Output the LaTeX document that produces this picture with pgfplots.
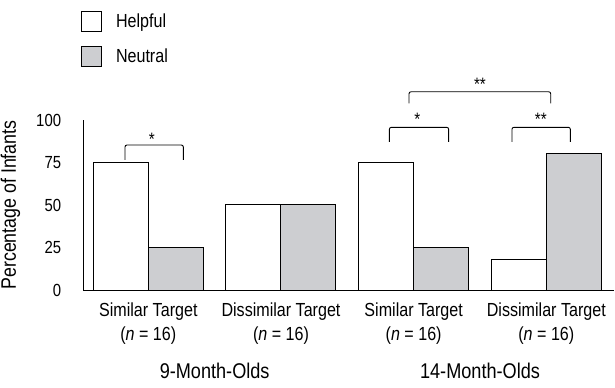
\documentclass[border=0pt]{standalone}
\usepackage{fontspec}
\setmainfont{Liberation Sans}[FakeStretch=0.85]
\usepackage{pgfplots}
\pgfplotsset{compat=1.18}
\definecolor{barGray}{RGB}{205,206,209}
\begin{document}
\begin{tikzpicture}
\useasboundingbox (-83.3bp,-98bp) rectangle (531.7bp,290bp);
\begin{axis}[
  at={(0,0)}, anchor=south west,
  scale only axis, width=530.7bp, height=170bp,
  xmin=-0.49, xmax=3.51, ymin=0, ymax=100,
  axis x line*=bottom, axis y line*=left,
  axis line style={-, line width=1bp},
  ybar=0pt, bar width=55bp,
  xtick={0,1,2,3},
  xticklabels={{Similar Target\\(\textit{n} = 16)}, {Dissimilar Target\\(\textit{n} = 16)}, {Similar Target\\(\textit{n} = 16)}, {Dissimilar Target\\(\textit{n} = 16)}},
  ytick={0,25,50,75,100},
  tick style={draw=none},
  major tick length=0pt,
  /pgf/number format/assume math mode=true,
  xticklabel style={align=center, font=\fontsize{19}{24}\selectfont, inner sep=0pt, yshift=-13bp},
  yticklabel style={font=\fontsize{17.6}{20}\selectfont, inner sep=0pt, xshift=-22bp, anchor=east},
  ylabel={Percentage of Infants},
  every axis y label/.style={at={(axis description cs:-0.137,0.5)}, rotate=90, anchor=center, font=\fontsize{21}{24}\selectfont},
  clip=false,
  legend style={at={(axis description cs:-0.0043,1.643)}, anchor=north west, draw=none, fill=none, inner sep=0pt, outer sep=0pt, row sep=14bp, nodes={inner sep=0pt, anchor=west}, font=\fontsize{19}{22}\selectfont, cells={anchor=west}},
  legend cell align=left,
]
\addplot[draw=black, fill=white, line width=1bp, legend image code/.code={\draw[draw=black, fill=white, line width=1bp] (0bp,-10bp) rectangle (20bp,10bp); \path (34bp,0bp);}] coordinates {(0,75) (1,50) (2,75) (3,18)};
\addlegendentry{Helpful}
\addplot[draw=black, fill=barGray, line width=1bp, legend image code/.code={\draw[draw=black, fill=barGray, line width=1bp] (0bp,-10bp) rectangle (20bp,10bp); \path (34bp,0bp);}] coordinates {(0,25) (1,50) (2,25) (3,80)};
\addlegendentry{Neutral}
% group labels
\node[anchor=base, font=\fontsize{21.4}{24}\selectfont, inner sep=0pt] at (axis cs:0.5,-51.8) {9-Month-Olds};
\node[anchor=base, font=\fontsize{21.4}{24}\selectfont, inner sep=0pt] at (axis cs:2.5,-51.8) {14-Month-Olds};
% significance brackets
\draw[line width=0.9bp, rounded corners=2bp] (axis cs:-0.176,76.5) -- (axis cs:-0.176,85.3) -- (axis cs:0.264,85.3) -- (axis cs:0.264,76.5);
\draw[line width=0.9bp, rounded corners=2bp] (axis cs:1.817,87.2) -- (axis cs:1.817,95.7) -- (axis cs:2.264,95.7) -- (axis cs:2.264,87.2);
\draw[line width=0.9bp, rounded corners=2bp] (axis cs:2.741,87.2) -- (axis cs:2.741,95.7) -- (axis cs:3.181,95.7) -- (axis cs:3.181,87.2);
\draw[line width=0.9bp, rounded corners=2bp] (axis cs:1.965,109.8) -- (axis cs:1.965,116.6) -- (axis cs:3.033,116.6) -- (axis cs:3.033,109.8);
\node[anchor=base, font=\fontsize{18}{20}\selectfont, inner sep=0pt] at (axis cs:0.026,85) {*};
\node[anchor=base, font=\fontsize{18}{20}\selectfont, inner sep=0pt] at (axis cs:2.028,96.6) {*};
\node[anchor=base, font=\fontsize{18}{20}\selectfont, inner sep=0pt] at (axis cs:2.958,96.6) {**};
\node[anchor=base, font=\fontsize{18}{20}\selectfont, inner sep=0pt] at (axis cs:2.5,117.6) {**};
\end{axis}
\end{tikzpicture}
\end{document}
